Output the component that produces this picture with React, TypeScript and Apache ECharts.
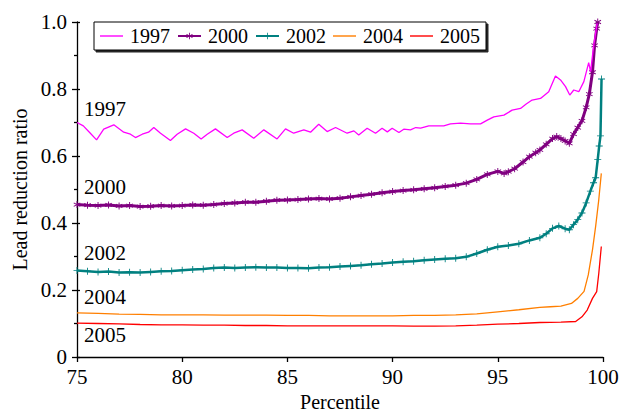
import React, { useEffect, useRef } from 'react'
import * as echarts from 'echarts'

const FONT = "'Liberation Serif', 'DejaVu Serif', serif"

const SERIES_NAMES = ['1997', '2000', '2002', '2004', '2005']
const SERIES_COLORS = ['#ff00ff', '#800080', '#008080', '#ff7f00', '#ff0000']

const X_TICKS = [75, 80, 85, 90, 95, 100]
const Y_TICKS = [0, 0.2, 0.4, 0.6, 0.8, 1.0]

// [percentile, lead reduction ratio]
const data1997: [number, number][] = [
  [75, 0.7], [75.3, 0.69], [75.6, 0.67], [75.93, 0.648], [76.27, 0.68], [76.75, 0.693],
  [77.22, 0.671], [77.54, 0.665], [77.78, 0.655], [78.1, 0.665], [78.4, 0.671], [78.65, 0.685],
  [78.97, 0.668], [79.44, 0.646], [79.76, 0.665], [80.16, 0.681], [80.55, 0.668], [80.9, 0.651],
  [81.19, 0.665], [81.58, 0.681], [82.14, 0.655], [82.45, 0.668], [82.85, 0.678], [83.4, 0.653],
  [83.88, 0.678], [84.51, 0.651], [84.91, 0.681], [85.3, 0.668], [85.78, 0.678], [86.1, 0.671],
  [86.49, 0.695], [86.89, 0.673], [87.29, 0.685], [87.84, 0.668], [88.16, 0.675], [88.39, 0.663],
  [88.79, 0.683], [89.19, 0.668], [89.5, 0.683], [89.75, 0.672], [89.98, 0.683], [90.3, 0.67],
  [90.53, 0.68], [90.85, 0.678], [91.1, 0.685], [91.33, 0.683], [91.72, 0.69], [92.12, 0.69],
  [92.43, 0.69], [92.75, 0.696], [93.23, 0.698], [93.7, 0.696], [94.18, 0.696], [94.5, 0.707],
  [94.81, 0.717], [95.29, 0.722], [95.68, 0.737], [96.08, 0.742], [96.35, 0.755], [96.63, 0.767],
  [97.03, 0.772], [97.42, 0.792], [97.74, 0.839], [97.98, 0.827], [98.22, 0.807], [98.42, 0.782],
  [98.61, 0.797], [98.85, 0.792], [99.09, 0.822], [99.32, 0.879], [99.41, 0.852], [99.56, 0.931],
  [99.72, 0.996],
]

const data2000: [number, number][] = [
  [75, 0.455], [75.5, 0.453], [76, 0.452], [76.5, 0.454], [77, 0.451], [77.5, 0.452],
  [78, 0.449], [78.5, 0.45], [79, 0.452], [79.5, 0.451], [80, 0.452], [80.5, 0.454],
  [81, 0.453], [81.5, 0.455], [82, 0.458], [82.5, 0.46], [83, 0.462], [83.5, 0.462],
  [84, 0.465], [84.5, 0.468], [85, 0.469], [85.5, 0.47], [86, 0.472], [86.5, 0.473],
  [87, 0.472], [87.5, 0.474], [88, 0.478], [88.5, 0.482], [89, 0.486], [89.5, 0.49],
  [90, 0.494], [90.5, 0.497], [91, 0.499], [91.5, 0.502], [92, 0.505], [92.5, 0.509],
  [93, 0.513], [93.5, 0.519], [94, 0.53], [94.5, 0.545], [95, 0.554], [95.3, 0.548],
  [95.5, 0.553], [95.8, 0.562], [96.2, 0.582], [96.5, 0.598], [96.8, 0.61], [97, 0.618],
  [97.3, 0.635], [97.6, 0.652], [97.8, 0.658], [98, 0.652], [98.2, 0.645], [98.4, 0.638],
  [98.6, 0.665], [98.8, 0.685], [99, 0.705], [99.2, 0.745], [99.35, 0.785], [99.5, 0.85],
  [99.6, 0.93], [99.7, 0.98], [99.75, 1.0],
]

const data2002: [number, number][] = [
  [75, 0.258], [75.5, 0.256], [76, 0.254], [76.5, 0.255], [77, 0.252], [77.5, 0.253],
  [78, 0.252], [78.5, 0.254], [79, 0.256], [79.5, 0.257], [80, 0.259], [80.5, 0.261],
  [81, 0.263], [81.5, 0.266], [82, 0.267], [82.5, 0.266], [83, 0.267], [83.5, 0.268],
  [84, 0.267], [84.5, 0.267], [85, 0.266], [85.5, 0.266], [86, 0.265], [86.5, 0.267],
  [87, 0.268], [87.5, 0.27], [88, 0.272], [88.5, 0.274], [89, 0.277], [89.5, 0.279],
  [90, 0.282], [90.5, 0.284], [91, 0.286], [91.5, 0.289], [92, 0.291], [92.5, 0.293],
  [93, 0.295], [93.5, 0.299], [94, 0.309], [94.5, 0.32], [95, 0.329], [95.5, 0.333],
  [96, 0.338], [96.5, 0.348], [97, 0.356], [97.3, 0.368], [97.6, 0.384], [97.9, 0.391],
  [98.2, 0.383], [98.4, 0.38], [98.6, 0.395], [98.8, 0.41], [99, 0.43], [99.2, 0.46],
  [99.4, 0.495], [99.55, 0.52], [99.65, 0.535], [99.75, 0.59], [99.82, 0.63], [99.88, 0.66],
  [99.93, 0.83],
]

const data2004: [number, number][] = [
  [75, 0.132], [75.5, 0.131], [76, 0.13], [77, 0.128], [78, 0.127], [79, 0.126],
  [80, 0.126], [81, 0.126], [82, 0.125], [83, 0.125], [84, 0.125], [85, 0.124],
  [86, 0.124], [87, 0.123], [88, 0.123], [89, 0.123], [90, 0.123], [91, 0.124],
  [92, 0.124], [93, 0.126], [94, 0.129], [95, 0.135], [96, 0.141], [97, 0.148],
  [97.5, 0.15], [98, 0.152], [98.5, 0.16], [98.8, 0.175], [99.1, 0.196], [99.3, 0.245],
  [99.5, 0.32], [99.65, 0.39], [99.8, 0.47], [99.92, 0.548],
]

const data2005: [number, number][] = [
  [75, 0.101], [76, 0.1], [77, 0.099], [78, 0.097], [79, 0.096], [80, 0.096],
  [81, 0.095], [82, 0.095], [83, 0.094], [84, 0.094], [85, 0.093], [86, 0.093],
  [87, 0.093], [88, 0.093], [89, 0.093], [90, 0.093], [91, 0.092], [92, 0.092],
  [93, 0.093], [94, 0.095], [95, 0.098], [96, 0.1], [97, 0.103], [98, 0.104],
  [98.7, 0.106], [99, 0.12], [99.25, 0.14], [99.5, 0.175], [99.7, 0.195], [99.8, 0.25],
  [99.92, 0.33],
]

// label text, left x, middle y
const INLINE_LABELS: [string, number, number][] = [
  ['1997', 84, 109],
  ['2000', 84, 187],
  ['2002', 84, 253],
  ['2004', 84, 297],
  ['2005', 84, 335],
]

const ASTERISK =
  'path://M-0.5,-4L0.5,-4L0.5,4L-0.5,4Z' +
  'M3.214,2.433L3.714,1.567L-3.214,-2.433L-3.714,-1.567Z' +
  'M3.714,-1.567L3.214,-2.433L-3.714,1.567L-3.214,2.433Z'
const PLUS = 'path://M-0.5,-4L0.5,-4L0.5,4L-0.5,4ZM-4,-0.5L4,-0.5L4,0.5L-4,0.5Z'
// plain line icon for the series drawn without markers
const LINE_ICON = 'path://M0,0L23,0L23,1.4L0,1.4Z'

export default function App() {
  const chartRef = useRef<HTMLDivElement>(null)

  useEffect(() => {
    if (!chartRef.current) return
    const chart = echarts.init(chartRef.current, null, { renderer: 'svg' })

    const allData = [data1997, data2000, data2002, data2004, data2005]
    const symbols = ['none', ASTERISK, PLUS, 'none', 'none']
    const widths = [1.3, 3, 2.5, 1.3, 1.3]

    const series: any[] = allData.map((d, i) => ({
      name: SERIES_NAMES[i],
      type: 'line',
      data: d,
      symbol: symbols[i],
      symbolSize: 7,
      showSymbol: symbols[i] !== 'none',
      lineStyle: { color: SERIES_COLORS[i], width: widths[i] },
      itemStyle: { color: SERIES_COLORS[i] },
      z: 10 - i,
    }))

    const option: any = {
      animation: false,
      textStyle: { fontFamily: FONT },
      grid: { left: 77, right: 21, top: 22, bottom: 55, outerBoundsMode: 'none', containLabel: false },
      legend: {
        left: 94,
        top: 22,
        itemWidth: 23,
        itemHeight: 8,
        itemGap: 7,
        symbolKeepAspect: true,
        padding: [4, 6, 4, 6],
        borderColor: '#000',
        borderWidth: 1,
        backgroundColor: '#fff',
        shadowColor: 'rgba(0,0,0,0.85)',
        shadowOffsetX: 2,
        shadowOffsetY: 2,
        shadowBlur: 0,
        textStyle: { fontFamily: FONT, fontSize: 20, color: '#000', padding: [0, 0, 0, 2] },
        data: SERIES_NAMES.map((n, i) => (symbols[i] === 'none' ? { name: n, icon: LINE_ICON } : { name: n })),
      },
      xAxis: {
        type: 'value',
        min: X_TICKS[0],
        max: X_TICKS[X_TICKS.length - 1],
        interval: 5,
        name: 'Percentile',
        nameLocation: 'middle',
        nameGap: 34,
        nameTextStyle: { fontFamily: FONT, fontSize: 20, color: '#000' },
        axisLine: { lineStyle: { color: '#000', width: 1.3 } },
        axisTick: { length: 5, lineStyle: { color: '#000', width: 1.3 } },
        axisLabel: { fontFamily: FONT, fontSize: 21, color: '#000', margin: 9 },
        splitLine: { show: false },
      },
      yAxis: [
        {
          type: 'value',
          min: Y_TICKS[0],
          max: Y_TICKS[Y_TICKS.length - 1],
          interval: 0.2,
          name: 'Lead reduction ratio',
          nameLocation: 'middle',
          nameGap: 45,
          nameTextStyle: { fontFamily: FONT, fontSize: 20, color: '#000' },
          axisLine: { show: true, lineStyle: { color: '#000', width: 1.3 } },
          axisTick: { length: 5, lineStyle: { color: '#000', width: 1.3 } },
          minorTick: { show: true, splitNumber: 2, length: 3, lineStyle: { color: '#000', width: 1.3 } },
          axisLabel: {
            fontFamily: FONT,
            fontSize: 21,
            color: '#000',
            margin: 10,
            formatter: (v: number) => (v === 0 ? '0' : v.toFixed(1)),
          },
          splitLine: { show: false },
        },
        {
          type: 'value',
          position: 'left',
          min: Y_TICKS[0],
          max: Y_TICKS[Y_TICKS.length - 1],
          interval: 0.2,
          axisLine: { show: false },
          axisTick: { show: true, inside: true, length: 3, lineStyle: { color: '#000', width: 1.3 } },
          axisLabel: { show: false },
          splitLine: { show: false },
        },
      ],
      graphic: INLINE_LABELS.map(([t, x, y]) => ({
        type: 'text',
        x,
        y,
        style: { text: t, font: `21px ${FONT}`, fill: '#000', verticalAlign: 'middle' },
        z: 100,
      })),
      series,
    }

    chart.setOption(option)
    return () => chart.dispose()
  }, [])

  return (
    <div
      ref={chartRef}
      style={{ position: 'fixed', left: 0, top: 0, width: '624px', height: '412px', background: '#fff' }}
    />
  )
}
